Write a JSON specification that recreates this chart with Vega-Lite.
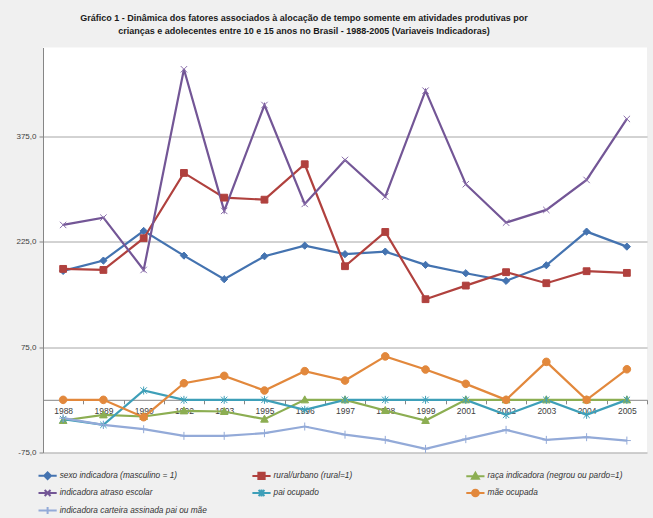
{
  "$schema": "https://vega.github.io/schema/vega-lite/v6.json",
  "autosize": "none",
  "padding": {"left": 43, "top": 47.5, "right": 6, "bottom": 65.5},
  "width": 604,
  "height": 405,
  "background": "#f0f0f0",
  "config": {
    "view": {"fill": "white", "stroke": null},
    "font": "Liberation Sans"
  },
  "title": {
    "text": [
      "Gráfico 1 -  Dinâmica dos fatores associados à alocação de tempo somente em atividades produtivas por",
      "crianças e adolecentes entre 10 e 15 anos no Brasil - 1988-2005 (Variaveis Indicadoras)"
    ],
    "font": "Liberation Sans",
    "fontSize": 9,
    "fontWeight": "bold",
    "color": "#1a1a1a",
    "anchor": "middle",
    "frame": "group",
    "dx": -41,
    "offset": 12,
    "lineHeight": 13
  },
  "data": {
    "values": [
      {"ano": "1988", "serie": "sexo indicadora (masculino = 1)", "valor": 183.7},
      {"ano": "1989", "serie": "sexo indicadora (masculino = 1)", "valor": 198.4},
      {"ano": "1990", "serie": "sexo indicadora (masculino = 1)", "valor": 240.7},
      {"ano": "1992", "serie": "sexo indicadora (masculino = 1)", "valor": 205.5},
      {"ano": "1993", "serie": "sexo indicadora (masculino = 1)", "valor": 171.9},
      {"ano": "1995", "serie": "sexo indicadora (masculino = 1)", "valor": 204.6},
      {"ano": "1996", "serie": "sexo indicadora (masculino = 1)", "valor": 219.7},
      {"ano": "1997", "serie": "sexo indicadora (masculino = 1)", "valor": 207.6},
      {"ano": "1998", "serie": "sexo indicadora (masculino = 1)", "valor": 211.2},
      {"ano": "1999", "serie": "sexo indicadora (masculino = 1)", "valor": 192.3},
      {"ano": "2001", "serie": "sexo indicadora (masculino = 1)", "valor": 180.4},
      {"ano": "2002", "serie": "sexo indicadora (masculino = 1)", "valor": 169.5},
      {"ano": "2003", "serie": "sexo indicadora (masculino = 1)", "valor": 191.8},
      {"ano": "2004", "serie": "sexo indicadora (masculino = 1)", "valor": 239.7},
      {"ano": "2005", "serie": "sexo indicadora (masculino = 1)", "valor": 218.3},

      {"ano": "1988", "serie": "rural/urbano (rural=1)", "valor": 186.6},
      {"ano": "1989", "serie": "rural/urbano (rural=1)", "valor": 185.1},
      {"ano": "1990", "serie": "rural/urbano (rural=1)", "valor": 230.3},
      {"ano": "1992", "serie": "rural/urbano (rural=1)", "valor": 323.3},
      {"ano": "1993", "serie": "rural/urbano (rural=1)", "valor": 288.1},
      {"ano": "1995", "serie": "rural/urbano (rural=1)", "valor": 285.2},
      {"ano": "1996", "serie": "rural/urbano (rural=1)", "valor": 335.7},
      {"ano": "1997", "serie": "rural/urbano (rural=1)", "valor": 190.4},
      {"ano": "1998", "serie": "rural/urbano (rural=1)", "valor": 239.2},
      {"ano": "1999", "serie": "rural/urbano (rural=1)", "valor": 143.4},
      {"ano": "2001", "serie": "rural/urbano (rural=1)", "valor": 162.8},
      {"ano": "2002", "serie": "rural/urbano (rural=1)", "valor": 181.9},
      {"ano": "2003", "serie": "rural/urbano (rural=1)", "valor": 166.2},
      {"ano": "2004", "serie": "rural/urbano (rural=1)", "valor": 183.3},
      {"ano": "2005", "serie": "rural/urbano (rural=1)", "valor": 180.9},

      {"ano": "1988", "serie": "raça indicadora (negrou ou pardo=1)", "valor": -29.4},
      {"ano": "1989", "serie": "raça indicadora (negrou ou pardo=1)", "valor": -21.4},
      {"ano": "1990", "serie": "raça indicadora (negrou ou pardo=1)", "valor": -23.7},
      {"ano": "1992", "serie": "raça indicadora (negrou ou pardo=1)", "valor": -15.7},
      {"ano": "1993", "serie": "raça indicadora (negrou ou pardo=1)", "valor": -16.6},
      {"ano": "1995", "serie": "raça indicadora (negrou ou pardo=1)", "valor": -27.5},
      {"ano": "1996", "serie": "raça indicadora (negrou ou pardo=1)", "valor": 0},
      {"ano": "1997", "serie": "raça indicadora (negrou ou pardo=1)", "valor": 0},
      {"ano": "1998", "serie": "raça indicadora (negrou ou pardo=1)", "valor": -15.2},
      {"ano": "1999", "serie": "raça indicadora (negrou ou pardo=1)", "valor": -29.4},
      {"ano": "2001", "serie": "raça indicadora (negrou ou pardo=1)", "valor": 0},
      {"ano": "2002", "serie": "raça indicadora (negrou ou pardo=1)", "valor": 0},
      {"ano": "2003", "serie": "raça indicadora (negrou ou pardo=1)", "valor": 0},
      {"ano": "2004", "serie": "raça indicadora (negrou ou pardo=1)", "valor": 0},
      {"ano": "2005", "serie": "raça indicadora (negrou ou pardo=1)", "valor": 0},

      {"ano": "1988", "serie": "indicadora atraso escolar", "valor": 249.2},
      {"ano": "1989", "serie": "indicadora atraso escolar", "valor": 259.6},
      {"ano": "1990", "serie": "indicadora atraso escolar", "valor": 185.1},
      {"ano": "1992", "serie": "indicadora atraso escolar", "valor": 471.0},
      {"ano": "1993", "serie": "indicadora atraso escolar", "valor": 269.2},
      {"ano": "1995", "serie": "indicadora atraso escolar", "valor": 420.1},
      {"ano": "1996", "serie": "indicadora atraso escolar", "valor": 279.1},
      {"ano": "1997", "serie": "indicadora atraso escolar", "valor": 341.8},
      {"ano": "1998", "serie": "indicadora atraso escolar", "valor": 289.5},
      {"ano": "1999", "serie": "indicadora atraso escolar", "valor": 440.5},
      {"ano": "2001", "serie": "indicadora atraso escolar", "valor": 307.2},
      {"ano": "2002", "serie": "indicadora atraso escolar", "valor": 252.5},
      {"ano": "2003", "serie": "indicadora atraso escolar", "valor": 270.6},
      {"ano": "2004", "serie": "indicadora atraso escolar", "valor": 313.3},
      {"ano": "2005", "serie": "indicadora atraso escolar", "valor": 400.2},

      {"ano": "1988", "serie": "pai ocupado", "valor": -27.5},
      {"ano": "1989", "serie": "pai ocupado", "valor": -35.6},
      {"ano": "1990", "serie": "pai ocupado", "valor": 13.3},
      {"ano": "1992", "serie": "pai ocupado", "valor": 0},
      {"ano": "1993", "serie": "pai ocupado", "valor": 0},
      {"ano": "1995", "serie": "pai ocupado", "valor": 0},
      {"ano": "1996", "serie": "pai ocupado", "valor": -14.2},
      {"ano": "1997", "serie": "pai ocupado", "valor": 0},
      {"ano": "1998", "serie": "pai ocupado", "valor": 0},
      {"ano": "1999", "serie": "pai ocupado", "valor": 0},
      {"ano": "2001", "serie": "pai ocupado", "valor": 0},
      {"ano": "2002", "serie": "pai ocupado", "valor": -21.4},
      {"ano": "2003", "serie": "pai ocupado", "valor": 0},
      {"ano": "2004", "serie": "pai ocupado", "valor": -21.4},
      {"ano": "2005", "serie": "pai ocupado", "valor": 0},

      {"ano": "1988", "serie": "mãe ocupada", "valor": 0},
      {"ano": "1989", "serie": "mãe ocupada", "valor": 0},
      {"ano": "1990", "serie": "mãe ocupada", "valor": -24.7},
      {"ano": "1992", "serie": "mãe ocupada", "valor": 23.7},
      {"ano": "1993", "serie": "mãe ocupada", "valor": 34.2},
      {"ano": "1995", "serie": "mãe ocupada", "valor": 13.3},
      {"ano": "1996", "serie": "mãe ocupada", "valor": 40.9},
      {"ano": "1997", "serie": "mãe ocupada", "valor": 27.5},
      {"ano": "1998", "serie": "mãe ocupada", "valor": 61.9},
      {"ano": "1999", "serie": "mãe ocupada", "valor": 43.2},
      {"ano": "2001", "serie": "mãe ocupada", "valor": 22.8},
      {"ano": "2002", "serie": "mãe ocupada", "valor": 0},
      {"ano": "2003", "serie": "mãe ocupada", "valor": 54.1},
      {"ano": "2004", "serie": "mãe ocupada", "valor": 0},
      {"ano": "2005", "serie": "mãe ocupada", "valor": 43.6},

      {"ano": "1988", "serie": "indicadora carteira assinada pai ou mãe", "valor": -26.1},
      {"ano": "1989", "serie": "indicadora carteira assinada pai ou mãe", "valor": -35.6},
      {"ano": "1990", "serie": "indicadora carteira assinada pai ou mãe", "valor": -41.8},
      {"ano": "1992", "serie": "indicadora carteira assinada pai ou mãe", "valor": -51.3},
      {"ano": "1993", "serie": "indicadora carteira assinada pai ou mãe", "valor": -51.3},
      {"ano": "1995", "serie": "indicadora carteira assinada pai ou mãe", "valor": -47.5},
      {"ano": "1996", "serie": "indicadora carteira assinada pai ou mãe", "valor": -38.0},
      {"ano": "1997", "serie": "indicadora carteira assinada pai ou mãe", "valor": -49.6},
      {"ano": "1998", "serie": "indicadora carteira assinada pai ou mãe", "valor": -57.0},
      {"ano": "1999", "serie": "indicadora carteira assinada pai ou mãe", "valor": -69.8},
      {"ano": "2001", "serie": "indicadora carteira assinada pai ou mãe", "valor": -56.0},
      {"ano": "2002", "serie": "indicadora carteira assinada pai ou mãe", "valor": -42.7},
      {"ano": "2003", "serie": "indicadora carteira assinada pai ou mãe", "valor": -57.0},
      {"ano": "2004", "serie": "indicadora carteira assinada pai ou mãe", "valor": -53.2},
      {"ano": "2005", "serie": "indicadora carteira assinada pai ou mãe", "valor": -58.0}
    ]
  },
  "encoding": {
    "x": {
      "field": "ano",
      "type": "nominal",
      "sort": null,
      "scale": {"type": "band", "paddingInner": 0, "paddingOuter": 0},
      "axis": {
        "title": null,
        "orient": "bottom",
        "offset": -52.7,
        "labelAngle": 0,
        "tickBand": "extent",
        "domainColor": "#868686",
        "tickColor": "#868686",
        "tickSize": 4,
        "labelPadding": 3,
        "labelFont": "Liberation Sans",
        "labelFontSize": 8.5,
        "labelColor": "#404040",
        "grid": false
      }
    },
    "y": {
      "field": "valor",
      "type": "quantitative",
      "scale": {"domain": [-75, 502], "nice": false, "zero": false},
      "axis": {
        "title": null,
        "values": [-75, 75, 225, 375],
        "labelExpr": "datum.value + ',0'",
        "grid": true,
        "gridColor": "#a6a6a6",
        "domainColor": "#868686",
        "tickColor": "#868686",
        "tickSize": 4,
        "labelPadding": 3,
        "labelFont": "Liberation Sans",
        "labelFontSize": 8,
        "labelColor": "#404040"
      }
    }
  },
  "layer": [
    {
      "mark": {"type": "line", "strokeWidth": 2.2},
      "encoding": {
        "stroke": {
          "field": "serie",
          "type": "nominal",
          "scale": {
            "domain": ["sexo indicadora (masculino = 1)", "indicadora atraso escolar", "mãe ocupada", "rural/urbano (rural=1)", "pai ocupado", "indicadora carteira assinada pai ou mãe", "raça indicadora (negrou ou pardo=1)"],
            "range": ["#4473b0", "#735696", "#e2883c", "#b0413e", "#3e9fb8", "#93aad8", "#8cae52"]
          }
        }
      }
    },
    {
      "transform": [{"filter": {"field": "serie", "equal": "sexo indicadora (masculino = 1)"}}],
      "mark": {"type": "point", "filled": true, "opacity": 1, "fill": "#4473b0", "stroke": "#4473b0", "strokeWidth": 1, "size": 64, "shape": "M0,-0.9L0.9,0L0,0.9L-0.9,0Z"}
    },
    {
      "transform": [{"filter": {"field": "serie", "equal": "rural/urbano (rural=1)"}}],
      "mark": {"type": "point", "filled": true, "opacity": 1, "fill": "#b0413e", "stroke": "#b0413e", "strokeWidth": 1, "size": 64, "shape": "M-0.85,-0.85H0.85V0.85H-0.85Z"}
    },
    {
      "transform": [{"filter": {"field": "serie", "equal": "raça indicadora (negrou ou pardo=1)"}}],
      "mark": {"type": "point", "filled": true, "opacity": 1, "fill": "#8cae52", "stroke": "#8cae52", "strokeWidth": 1, "size": 64, "shape": "M0,-1L0.95,0.75H-0.95Z"}
    },
    {
      "transform": [{"filter": {"field": "serie", "equal": "indicadora atraso escolar"}}],
      "mark": {"type": "point", "filled": true, "opacity": 1, "fill": "#735696", "stroke": "#8a6eab", "strokeWidth": 1, "size": 64, "shape": "M-0.8,-0.8L0.8,0.8M-0.8,0.8L0.8,-0.8"}
    },
    {
      "transform": [{"filter": {"field": "serie", "equal": "pai ocupado"}}],
      "mark": {"type": "point", "filled": true, "opacity": 1, "fill": "#3e9fb8", "stroke": "#3e9fb8", "strokeWidth": 1, "size": 64, "shape": "M-0.8,-0.8L0.8,0.8M-0.8,0.8L0.8,-0.8M0,-1V1"}
    },
    {
      "transform": [{"filter": {"field": "serie", "equal": "mãe ocupada"}}],
      "mark": {"type": "point", "filled": true, "opacity": 1, "fill": "#e2883c", "stroke": "#e2883c", "strokeWidth": 1, "size": 64, "shape": "M0.95,0A0.95,0.95 0 1 1 -0.95,0A0.95,0.95 0 1 1 0.95,0Z"}
    },
    {
      "transform": [{"filter": {"field": "serie", "equal": "indicadora carteira assinada pai ou mãe"}}],
      "mark": {"type": "point", "filled": true, "opacity": 1, "fill": "#93aad8", "stroke": "#93aad8", "strokeWidth": 1, "size": 64, "shape": "M-1,0H1M0,-1V1"}
    },
    {
      "transform": [{"filter": {"field": "valor", "gt": 9999}}],
      "mark": {"type": "point", "filled": true, "opacity": 1, "strokeWidth": 2},
      "encoding": {
        "fill": {
          "field": "serie",
          "type": "nominal",
          "scale": {
            "domain": ["sexo indicadora (masculino = 1)", "indicadora atraso escolar", "mãe ocupada", "rural/urbano (rural=1)", "pai ocupado", "indicadora carteira assinada pai ou mãe", "raça indicadora (negrou ou pardo=1)"],
            "range": ["#4473b0", "#735696", "#e2883c", "#b0413e", "#3e9fb8", "#93aad8", "#8cae52"]
          },
          "legend": {
            "title": null, "orient": "none", "legendX": -3.4, "legendY": 420,
            "columns": 3, "gridAlign": "all", "columnPadding": 39.9, "rowPadding": 1.5,
            "symbolSize": 196, "symbolStrokeWidth": 2, "labelOffset": 4.1,
            "labelFont": "Liberation Sans", "labelFontStyle": "italic", "labelFontSize": 8.3,
            "labelColor": "#333333", "labelLimit": 400
          }
        },
        "stroke": {
          "field": "serie",
          "type": "nominal",
          "scale": {
            "domain": ["sexo indicadora (masculino = 1)", "indicadora atraso escolar", "mãe ocupada", "rural/urbano (rural=1)", "pai ocupado", "indicadora carteira assinada pai ou mãe", "raça indicadora (negrou ou pardo=1)"],
            "range": ["#4473b0", "#735696", "#e2883c", "#b0413e", "#3e9fb8", "#93aad8", "#8cae52"]
          },
          "legend": {
            "title": null, "orient": "none", "legendX": -3.4, "legendY": 420,
            "columns": 3, "gridAlign": "all", "columnPadding": 39.9, "rowPadding": 1.5,
            "symbolSize": 196, "symbolStrokeWidth": 2, "labelOffset": 4.1,
            "labelFont": "Liberation Sans", "labelFontStyle": "italic", "labelFontSize": 8.3,
            "labelColor": "#333333", "labelLimit": 400
          }
        },
        "shape": {
          "field": "serie",
          "type": "nominal",
          "scale": {
            "domain": ["sexo indicadora (masculino = 1)", "indicadora atraso escolar", "mãe ocupada", "rural/urbano (rural=1)", "pai ocupado", "indicadora carteira assinada pai ou mãe", "raça indicadora (negrou ou pardo=1)"],
            "range": [
              "M-1.3,0H1.3M0,-0.48L0.48,0L0,0.48L-0.48,0Z",
              "M-1.3,0H1.3M-0.42,-0.42L0.42,0.42M-0.42,0.42L0.42,-0.42",
              "M-1.3,0H1.3M0.48,0A0.48,0.48 0 1 1 -0.48,0A0.48,0.48 0 1 1 0.48,0Z",
              "M-1.3,0H1.3M-0.45,-0.45H0.45V0.45H-0.45Z",
              "M-1.3,0H1.3M-0.42,-0.42L0.42,0.42M-0.42,0.42L0.42,-0.42M0,-0.5V0.5",
              "M-1.3,0H1.3M0,-0.5V0.5",
              "M-1.3,0H1.3M0,-0.5L0.5,0.38H-0.5Z"
            ]
          },
          "legend": {
            "title": null, "orient": "none", "legendX": -3.4, "legendY": 420,
            "columns": 3, "gridAlign": "all", "columnPadding": 39.9, "rowPadding": 1.5,
            "symbolSize": 196, "symbolStrokeWidth": 2, "labelOffset": 4.1,
            "labelFont": "Liberation Sans", "labelFontStyle": "italic", "labelFontSize": 8.3,
            "labelColor": "#333333", "labelLimit": 400
          }
        }
      }
    }
  ]
}
